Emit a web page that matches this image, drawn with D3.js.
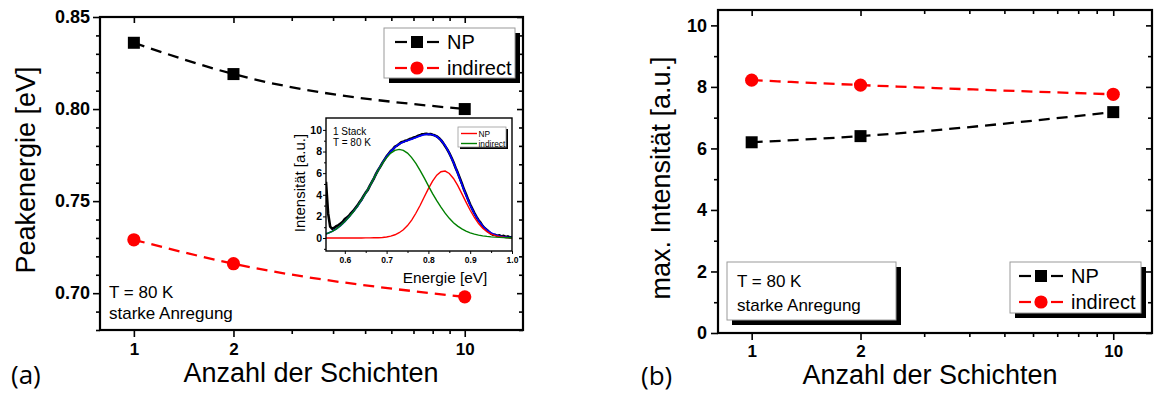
<!DOCTYPE html>
<html><head><meta charset="utf-8">
<script src="https://cdn.jsdelivr.net/npm/d3@7"></script>
<style>body{margin:0;background:#fff}svg{display:block}</style>
</head><body>
<svg id="c" width="1154" height="396"></svg>
<script>
// ---------- data ----------
const layers = [1, 2, 10];
const peakNP = [0.836, 0.819, 0.800];
const peakInd = [0.729, 0.716, 0.698];
const intNP = [6.2, 6.4, 7.18];
const intInd = [8.22, 8.06, 7.76];
const layerMajor = [1, 2, 10];
const layerMinor = [3, 4, 5, 6, 7, 8, 9];
const peakTicks = [0.70, 0.75, 0.80, 0.85];
const peakMinor = [0.68, 0.69, 0.71, 0.72, 0.73, 0.74, 0.76, 0.77, 0.78, 0.79, 0.81, 0.82, 0.83, 0.84];
const intTicks = [0, 2, 4, 6, 8, 10];
const intMinor = [1, 3, 5, 7, 9];
const seriesNames = ["NP", "indirect"];
// inset spectrum (1 Stack, T = 80 K)
const fitStart = 0.55, fitStep = 0.01;
const fitNP = [0,0,0,0,0,0,0,0,0,0,0.01,0.01,0.02,0.03,0.05,0.10,0.17,0.30,0.49,0.77,1.15,1.66,2.29,3.01,3.79,4.57,5.27,5.81,6.13,6.19,5.97,5.51,4.87,4.11,3.32,2.57,1.90,1.34,0.91,0.59,0.36,0.22,0.12,0.07,0.03,0.02];
const fitInd = [0.32,0.45,0.62,0.85,1.15,1.52,1.95,2.40,2.92,3.52,4.15,4.83,5.56,6.26,6.90,7.44,7.85,8.11,8.20,8.11,7.85,7.44,6.90,6.26,5.56,4.83,4.11,3.45,2.85,2.30,1.82,1.42,1.10,0.84,0.64,0.48,0.36,0.27,0.20,0.15,0.11,0.08,0.06,0.04,0.03,0.02];
const fitSum = [0.32,0.45,0.62,0.85,1.15,1.52,1.95,2.40,2.92,3.52,4.15,4.83,5.56,6.29,6.95,7.54,8.02,8.41,8.69,8.88,9.02,9.15,9.30,9.45,9.56,9.60,9.55,9.38,9.05,8.55,7.85,6.98,6.00,4.97,3.97,3.05,2.26,1.61,1.11,0.74,0.47,0.30,0.18,0.11,0.06,0.04];
const measStart = 0.555, measStep = 0.005;
const meas = [5.2,2.3,1.05,0.85,0.95,1.1,1.2,1.35,1.5,1.75,1.9,2.05,2.3,2.5,2.75,3.0,3.3,3.55,3.9,4.2,4.45,4.85,5.2,5.55,5.95,6.3,6.6,6.95,7.25,7.55,7.8,8.05,8.2,8.45,8.55,8.7,8.85,8.9,9.0,9.05,9.15,9.2,9.3,9.35,9.45,9.5,9.6,9.62,9.65,9.6,9.62,9.55,9.5,9.4,9.25,9.05,8.8,8.5,8.2,7.85,7.45,7.0,6.5,6.05,5.55,5.05,4.5,4.05,3.55,3.1,2.7,2.3,1.95,1.65,1.4,1.1,0.9,0.75,0.55,0.4,0.3,0.3,0.2,0.25,0.15,0.2,0.1,0.15,0.05,0.1];
const insetXTicks = [0.6, 0.7, 0.8, 0.9, 1.0];
const insetXMinor = [0.65, 0.75, 0.85, 0.95];
const insetYTicks = [0, 2, 4, 6, 8, 10];
const insetYMinor = [-1, 1, 3, 5, 7, 9];

// ---------- drawing ----------
const FONT = '"Liberation Sans", Arial, sans-serif';
const svg = d3.select('#c');
const RED = '#ff0000';

function styleAxis(g, size, bold) {
  g.select('.domain').remove();
  g.attr('font-family', FONT).attr('font-size', size).attr('font-weight', bold ? 'bold' : 'normal');
  g.selectAll('line').attr('stroke', '#000').attr('stroke-width', 1.6);
  g.selectAll('text').attr('fill', '#000');
}

function mainPanel(cfg) {
  const {x, y, x0, x1, y0, y1, yTicks, yMinor, yFmt, ySize, yPad, xPad} = cfg;
  const g = svg.append('g');
  g.append('g').attr('transform', `translate(0,${y0})`)
    .call(d3.axisBottom(x).tickValues(layerMajor).tickFormat(d3.format('d')).tickSize(7).tickPadding(xPad))
    .call(a => styleAxis(a, 17, true));
  g.append('g').attr('transform', `translate(0,${y0})`)
    .call(d3.axisBottom(x).tickValues(layerMinor).tickFormat('').tickSize(4))
    .call(a => styleAxis(a, 17, true));
  g.append('g').attr('transform', `translate(0,${y1})`)
    .call(d3.axisBottom(x).tickValues(layerMajor).tickFormat('').tickSize(6))
    .call(a => styleAxis(a, 17, true));
  g.append('g').attr('transform', `translate(0,${y1})`)
    .call(d3.axisBottom(x).tickValues(layerMinor).tickFormat('').tickSize(4))
    .call(a => styleAxis(a, 17, true));
  g.append('g').attr('transform', `translate(${x0},0)`)
    .call(d3.axisLeft(y).tickValues(yTicks).tickFormat(yFmt).tickSize(7).tickPadding(yPad))
    .call(a => styleAxis(a, ySize, true));
  g.append('g').attr('transform', `translate(${x0},0)`)
    .call(d3.axisLeft(y).tickValues(yMinor).tickFormat('').tickSize(4))
    .call(a => styleAxis(a, 17, true));
  g.append('g').attr('transform', `translate(${x1},0)`)
    .call(d3.axisLeft(y).tickValues(yTicks).tickFormat('').tickSize(6))
    .call(a => styleAxis(a, 17, true));
  g.append('g').attr('transform', `translate(${x1},0)`)
    .call(d3.axisLeft(y).tickValues(yMinor).tickFormat('').tickSize(4))
    .call(a => styleAxis(a, 17, true));
  g.append('rect').attr('x', x0).attr('y', y1).attr('width', x1 - x0).attr('height', y0 - y1)
    .attr('fill', 'none').attr('stroke', '#000').attr('stroke-width', 2.2);
  return g;
}

function series(g, x, y, vals, color, shape) {
  const pts = layers.map((d, i) => [x(d), y(vals[i])]);
  g.append('path').attr('d', d3.line().curve(d3.curveMonotoneX)(pts))
    .attr('fill', 'none').attr('stroke', color).attr('stroke-width', 2.3)
    .attr('stroke-dasharray', '11,7');
  pts.forEach(p => marker(g, p[0], p[1], color, shape));
}
function marker(g, cx, cy, color, shape) {
  if (shape === 'sq') {
    g.append('rect').attr('x', cx - 6).attr('y', cy - 6).attr('width', 12).attr('height', 12).attr('fill', color);
  } else {
    g.append('circle').attr('cx', cx).attr('cy', cy).attr('r', 6.6).attr('fill', color);
  }
}
function shadowBox(g, bx, by, bw, bh, off) {
  g.append('rect').attr('x', bx + off).attr('y', by + off).attr('width', bw).attr('height', bh).attr('fill', '#000');
  g.append('rect').attr('x', bx).attr('y', by).attr('width', bw).attr('height', bh)
    .attr('fill', '#fff').attr('stroke', '#9a9a9a').attr('stroke-width', 1);
}
function legend(g, bx, by, bw, bh, lx, rows, fs) {
  shadowBox(g, bx, by, bw, bh, 5);
  const items = [{c: '#000', s: 'sq'}, {c: RED, s: 'ci'}];
  items.forEach((it, i) => {
    const cy = rows[i];
    g.append('line').attr('x1', lx).attr('x2', lx + 12).attr('y1', cy).attr('y2', cy).attr('stroke', it.c).attr('stroke-width', 2.2);
    g.append('line').attr('x1', lx + 32).attr('x2', lx + 44).attr('y1', cy).attr('y2', cy).attr('stroke', it.c).attr('stroke-width', 2.2);
    marker(g, lx + 22, cy, it.c, it.s);
    g.append('text').attr('x', lx + 52).attr('y', cy + fs * 0.36).attr('font-family', FONT)
      .attr('font-size', fs).text(seriesNames[i]);
  });
}
function txt(g, x, y, s, fs, extra) {
  const t = g.append('text').attr('x', x).attr('y', y).attr('font-family', FONT).attr('font-size', fs).text(s);
  if (extra) extra(t);
  return t;
}

// ===== Panel (a) =====
const xA = d3.scaleLog().domain([0.79, 15]).range([100, 523]);
const yA = d3.scaleLinear().domain([0.68, 0.85]).range([330, 17]);
const gA = mainPanel({x: xA, y: yA, x0: 100, x1: 523, y0: 330, y1: 17,
  yTicks: peakTicks, yMinor: peakMinor, yFmt: d3.format('.2f'), ySize: 18, yPad: 3, xPad: 6});
series(gA, xA, yA, peakNP, '#000', 'sq');
series(gA, xA, yA, peakInd, RED, 'ci');
legend(gA, 384, 28, 131, 50, 395, [42, 68], 20);
txt(gA, 109, 298, 'T = 80 K', 17);
txt(gA, 109, 319, 'starke Anregung', 17);
txt(gA, 35, 170, 'Peakenergie [eV]', 27, t => t.attr('text-anchor', 'middle').attr('transform', 'rotate(-90,35,170)'));
txt(gA, 311, 382, 'Anzahl der Schichten', 27, t => t.attr('text-anchor', 'middle'));
txt(gA, 11, 384, '(a)', 26, t => t.attr('font-family', '"Open Sans", "Noto Sans", sans-serif'));

// ----- inset -----
const xI = d3.scaleLinear().domain([0.555, 1.0]).range([326, 512]);
const yI = d3.scaleLinear().domain([-1.2, 11.1]).range([251, 118]);
const gI = svg.append('g');
gI.append('rect').attr('x', 326).attr('y', 118).attr('width', 186).attr('height', 133).attr('fill', '#fff');
gI.append('defs').append('clipPath').attr('id', 'ic').append('rect').attr('x', 326).attr('y', 118).attr('width', 186).attr('height', 133);
const pl = gI.append('g').attr('clip-path', 'url(#ic)');
const lineF = (arr, st, sp) => d3.line().x((d, i) => xI(st + i * sp)).y(d => yI(d))(arr);
pl.append('path').attr('d', lineF(meas, measStart, measStep)).attr('fill', 'none').attr('stroke', '#000').attr('stroke-width', 2.6).attr('stroke-linejoin', 'round');
pl.append('path').attr('d', lineF(fitSum, fitStart, fitStep)).attr('fill', 'none').attr('stroke', '#0000ff').attr('stroke-width', 1.7);
pl.append('path').attr('d', lineF(fitNP, fitStart, fitStep)).attr('fill', 'none').attr('stroke', RED).attr('stroke-width', 1.4);
pl.append('path').attr('d', lineF(fitInd, fitStart, fitStep)).attr('fill', 'none').attr('stroke', '#008000').attr('stroke-width', 1.4);
gI.append('g').attr('transform', 'translate(0,251)')
  .call(d3.axisBottom(xI).tickValues(insetXTicks).tickFormat(d3.format('.1f')).tickSize(3).tickPadding(3))
  .call(a => styleAxis(a, 8.5, true));
gI.append('g').attr('transform', 'translate(0,251)')
  .call(d3.axisBottom(xI).tickValues(insetXMinor).tickFormat('').tickSize(2))
  .call(a => styleAxis(a, 8.5, true));
gI.append('g').attr('transform', 'translate(326,0)')
  .call(d3.axisLeft(yI).tickValues(insetYTicks).tickFormat(d3.format('d')).tickSize(3).tickPadding(1))
  .call(a => styleAxis(a, 10.5, true));
gI.append('g').attr('transform', 'translate(326,0)')
  .call(d3.axisLeft(yI).tickValues(insetYMinor).tickFormat('').tickSize(2))
  .call(a => styleAxis(a, 10.5, true));
gI.selectAll('line').attr('stroke-width', 1);
gI.append('rect').attr('x', 326).attr('y', 118).attr('width', 186).attr('height', 133)
  .attr('fill', 'none').attr('stroke', '#000').attr('stroke-width', 1.4);
txt(gI, 333, 135, '1 Stack', 10);
txt(gI, 333, 146, 'T = 80 K', 10);
gI.append('rect').attr('x', 460).attr('y', 129).attr('width', 48).attr('height', 20).attr('fill', '#000');
gI.append('rect').attr('x', 458).attr('y', 127).attr('width', 48).attr('height', 20).attr('fill', '#fff').attr('stroke', '#9a9a9a').attr('stroke-width', 0.8);
[['NP', RED, 133.5], ['indirect', '#008000', 143.5]].forEach(r => {
  gI.append('line').attr('x1', 461).attr('x2', 477).attr('y1', r[2]).attr('y2', r[2]).attr('stroke', r[1]).attr('stroke-width', 1.4);
  txt(gI, 478.5, r[2] + 3, r[0], 8.3);
});
txt(gI, 305, 183, 'Intensität [a.u.]', 15, t => t.attr('text-anchor', 'middle').attr('transform', 'rotate(-90,305,183)'));
txt(gI, 445, 283, 'Energie [eV]', 15.4, t => t.attr('text-anchor', 'middle'));

// ===== Panel (b) =====
const xB = d3.scaleLog().domain([0.807, 12.8]).range([718, 1152]);
const yB = d3.scaleLinear().domain([0, 10.5]).range([333, 10]);
const gB = mainPanel({x: xB, y: yB, x0: 718, x1: 1152, y0: 333, y1: 10,
  yTicks: intTicks, yMinor: intMinor, yFmt: d3.format('d'), ySize: 18, yPad: 4, xPad: 5});
series(gB, xB, yB, intInd, RED, 'ci');
series(gB, xB, yB, intNP, '#000', 'sq');
shadowBox(gB, 727, 262, 169, 58, 5);
txt(gB, 737, 287, 'T = 80 K', 17);
txt(gB, 737, 311, 'starke Anregung', 17);
legend(gB, 1010, 262, 131, 51, 1019, [276, 302], 20);
txt(gB, 670, 178, 'max. Intensität [a.u.]', 27, t => t.attr('text-anchor', 'middle').attr('transform', 'rotate(-90,670,178)'));
txt(gB, 930, 384, 'Anzahl der Schichten', 27, t => t.attr('text-anchor', 'middle'));
txt(gB, 641, 385, '(b)', 26, t => t.attr('font-family', '"Open Sans", "Noto Sans", sans-serif'));
</script>
</body></html>
